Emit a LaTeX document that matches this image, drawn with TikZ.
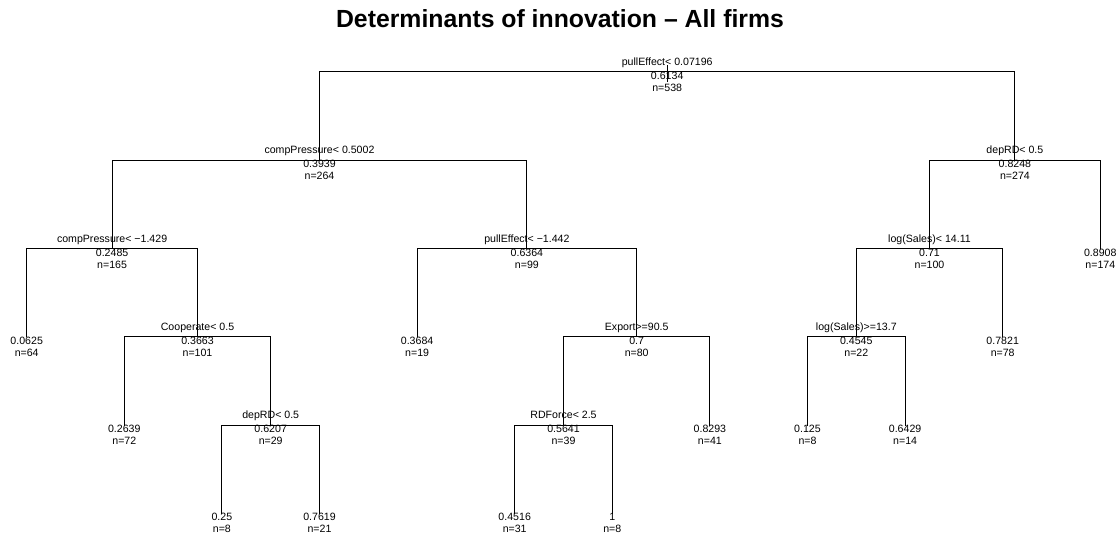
\documentclass[tikz,border=0pt]{standalone}
\usepackage{fontspec}
\setmainfont{Liberation Sans}
\begin{document}
\begin{tikzpicture}[
  branch/.style={line width=1pt, line cap=rect},
  lab/.style={inner sep=0pt, anchor=base, font=\fontsize{10.6}{12}\selectfont},
  splitlab/.style={lab, yshift=6.5pt},
  vallab/.style={lab, yshift=-7.5pt},
  nlab/.style={lab, yshift=-19.5pt},
  titlelab/.style={inner sep=0pt, anchor=base, font=\fontsize{24.8}{28}\selectfont\bfseries}
]
\useasboundingbox (0,0) rectangle (1120pt,535pt);
\node[titlelab] (title) at (560pt,507pt) {Determinants of innovation – All firms};

\begin{scope}[x=97.6pt, y=-88.26pt, shift={(-70.9pt,463pt)}]
  % split nodes (x = leaf index, y = depth)
  \coordinate (n1)  at (7.5625,0);
  \coordinate (n2)  at (4,1);
  \coordinate (n3)  at (1.875,2);
  \coordinate (n4)  at (2.75,3);
  \coordinate (n5)  at (3.5,4);
  \coordinate (n6)  at (6.125,2);
  \coordinate (n7)  at (7.25,3);
  \coordinate (n8)  at (6.5,4);
  \coordinate (n9)  at (11.125,1);
  \coordinate (n10) at (10.25,2);
  \coordinate (n11) at (9.5,3);
  % leaves
  \coordinate (l1)  at (1,3);
  \coordinate (l2)  at (2,4);
  \coordinate (l3)  at (3,5);
  \coordinate (l4)  at (4,5);
  \coordinate (l5)  at (5,3);
  \coordinate (l6)  at (6,5);
  \coordinate (l7)  at (7,5);
  \coordinate (l8)  at (8,4);
  \coordinate (l9)  at (9,4);
  \coordinate (l10) at (10,4);
  \coordinate (l11) at (11,3);
  \coordinate (l12) at (12,2);
\end{scope}

% branches
\draw[branch] ([yshift=6pt]n1) -- ([yshift=-10pt]n1);
\foreach \p/\c in {n1/n2, n1/n9, n2/n3, n2/n6, n3/l1, n3/n4, n4/l2, n4/n5,
                   n5/l3, n5/l4, n6/l5, n6/n7, n7/n8, n7/l8, n8/l6, n8/l7,
                   n9/n10, n9/l12, n10/n11, n10/l11, n11/l9, n11/l10}
  \draw[branch] (\p) -| (\c);

% split labels, fitted values and counts
\foreach \k/\s/\v/\n in {
  n1/{pullEffect< 0.07196}/0.6134/538,
  n2/{compPressure< 0.5002}/0.3939/264,
  n3/{compPressure< −1.429}/0.2485/165,
  n4/{Cooperate< 0.5}/0.3663/101,
  n5/{depRD< 0.5}/0.6207/29,
  n6/{pullEffect< −1.442}/0.6364/99,
  n7/{Export>=90.5}/0.7/80,
  n8/{RDForce< 2.5}/0.5641/39,
  n9/{depRD< 0.5}/0.8248/274,
  n10/{log(Sales)< 14.11}/0.71/100,
  n11/{log(Sales)>=13.7}/0.4545/22}{
  \node[splitlab] (s-\k) at (\k) {\s};
  \node[vallab] (v-\k) at (\k) {\v};
  \node[nlab] (c-\k) at (\k) {n=\n};
}
\foreach \k/\v/\n in {l1/0.0625/64, l2/0.2639/72, l3/0.25/8, l4/0.7619/21,
                      l5/0.3684/19, l6/0.4516/31, l7/1/8, l8/0.8293/41,
                      l9/0.125/8, l10/0.6429/14, l11/0.7821/78, l12/0.8908/174}{
  \node[vallab] (v-\k) at (\k) {\v};
  \node[nlab] (c-\k) at (\k) {n=\n};
}
\end{tikzpicture}
\end{document}
